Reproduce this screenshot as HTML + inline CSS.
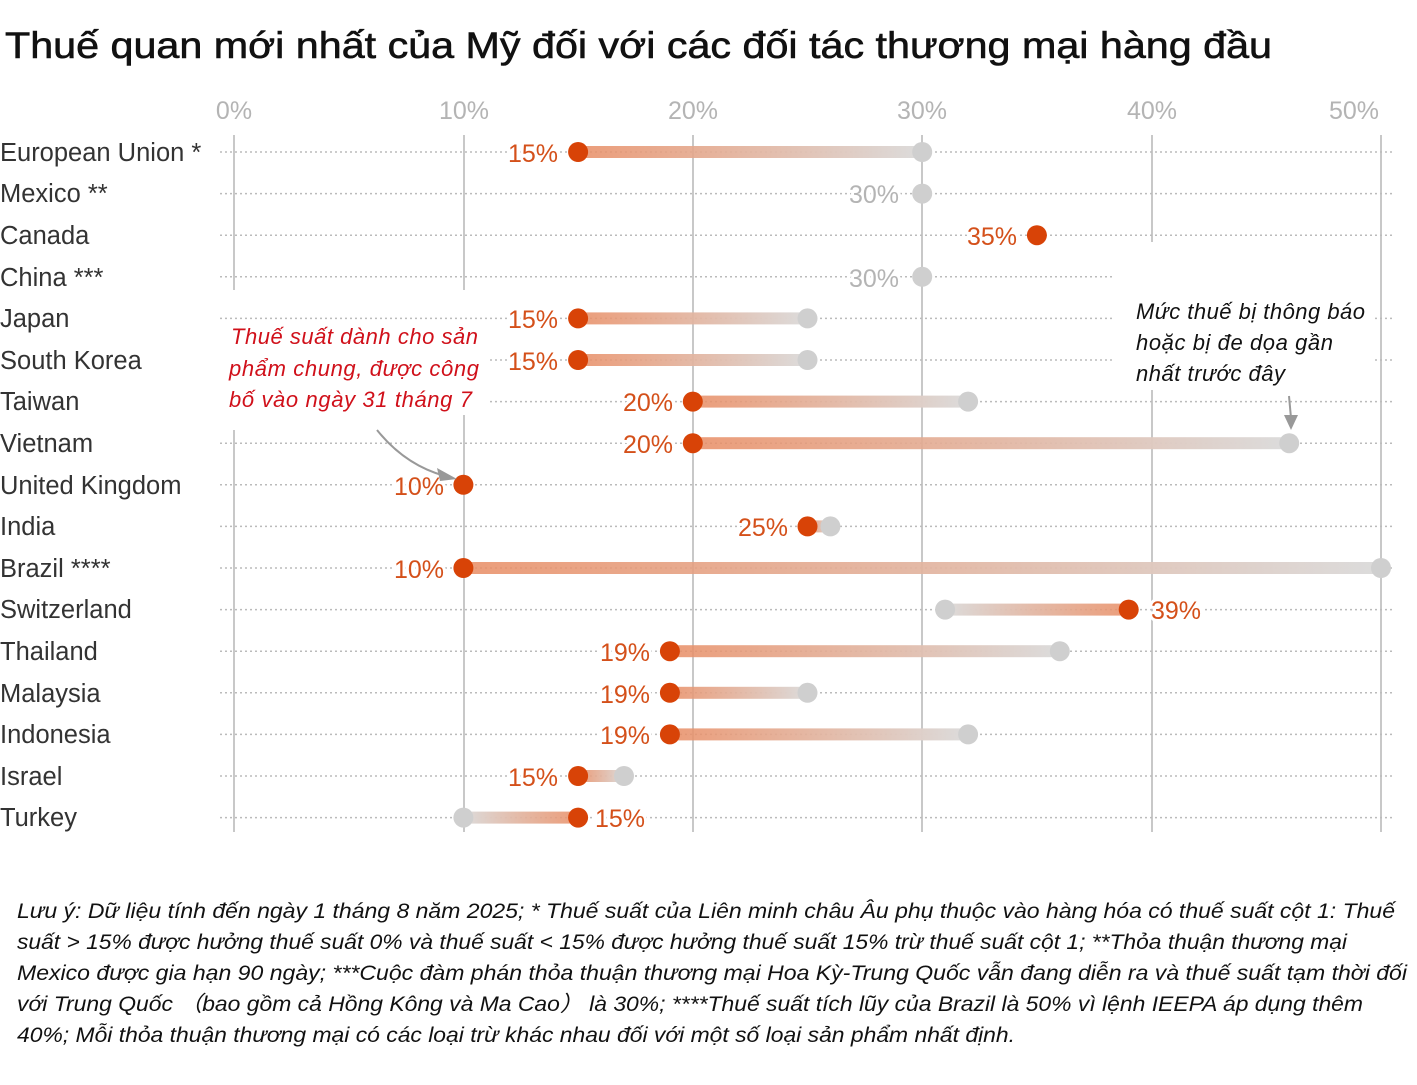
<!DOCTYPE html>
<html><head><meta charset="utf-8"><style>
body{margin:0;background:#fff}
svg{display:block;font-family:"Liberation Sans","DejaVu Sans",sans-serif}
</style></head><body>
<svg width="1417" height="1085" viewBox="0 0 1417 1085">
<defs>
<linearGradient id="gr" x1="0" x2="1" y1="0" y2="0"><stop offset="0" stop-color="#e88c63" stop-opacity="0.85"/><stop offset="1" stop-color="#dcdcdc"/></linearGradient>
<linearGradient id="gl" x1="1" x2="0" y1="0" y2="0"><stop offset="0" stop-color="#e88c63" stop-opacity="0.85"/><stop offset="1" stop-color="#dcdcdc"/></linearGradient>
</defs>
<text x="5" y="58" font-size="37" fill="#111" textLength="1267" lengthAdjust="spacingAndGlyphs" stroke="#111" stroke-width="0.6">Thuế quan mới nhất của Mỹ đối với các đối tác thương mại hàng đầu</text>
<g font-size="25" fill="#b4b4b4" text-anchor="middle">
<text x="234" y="119">0%</text><text x="464" y="119">10%</text><text x="693" y="119">20%</text><text x="922" y="119">30%</text><text x="1152" y="119">40%</text><text x="1354" y="119">50%</text>
</g>
<g stroke="#c8c8c8" stroke-width="2">
<line x1="234" y1="135" x2="234" y2="290"/><line x1="234" y1="430" x2="234" y2="832"/>
<line x1="464" y1="135" x2="464" y2="290"/><line x1="464" y1="415" x2="464" y2="832"/>
<line x1="693" y1="135" x2="693" y2="832"/><line x1="922" y1="135" x2="922" y2="832"/>
<line x1="1152" y1="135" x2="1152" y2="242"/><line x1="1152" y1="390" x2="1152" y2="832"/>
<line x1="1381" y1="135" x2="1381" y2="832"/>
</g>
<g stroke="#bbb" stroke-width="1.5" stroke-dasharray="2,3">
<line x1="220" x2="1395" y1="152" y2="152"/><line x1="220" x2="1395" y1="193.6" y2="193.6"/><line x1="220" x2="1395" y1="235.2" y2="235.2"/><line x1="220" x2="1112" y1="276.8" y2="276.8"/><line x1="220" x2="1395" y1="318.4" y2="318.4"/><line x1="220" x2="1395" y1="360" y2="360"/><line x1="220" x2="1395" y1="401.6" y2="401.6"/><line x1="220" x2="1395" y1="443.2" y2="443.2"/><line x1="220" x2="1395" y1="484.8" y2="484.8"/><line x1="220" x2="1395" y1="526.4" y2="526.4"/><line x1="220" x2="1395" y1="568" y2="568"/><line x1="220" x2="1395" y1="609.6" y2="609.6"/><line x1="220" x2="1395" y1="651.2" y2="651.2"/><line x1="220" x2="1395" y1="692.8" y2="692.8"/><line x1="220" x2="1395" y1="734.4" y2="734.4"/><line x1="220" x2="1395" y1="776" y2="776"/><line x1="220" x2="1395" y1="817.6" y2="817.6"/>
</g>
<g fill="#fff">
<rect x="1112" y="296" width="262" height="94"/>
<rect x="218" y="322" width="272" height="93"/>
</g>
<g>
<rect x="578.1" y="146" width="344.1" height="12" fill="url(#gr)"/>
<rect x="578.1" y="312.4" width="229.4" height="12" fill="url(#gr)"/>
<rect x="578.1" y="354" width="229.4" height="12" fill="url(#gr)"/>
<rect x="692.8" y="395.6" width="275.3" height="12" fill="url(#gr)"/>
<rect x="692.8" y="437.2" width="596.4" height="12" fill="url(#gr)"/>
<rect x="807.5" y="520.4" width="22.9" height="12" fill="url(#gr)"/>
<rect x="463.4" y="562" width="917.6" height="12" fill="url(#gr)"/>
<rect x="945.1" y="603.6" width="183.6" height="12" fill="url(#gl)"/>
<rect x="669.9" y="645.2" width="389.9" height="12" fill="url(#gr)"/>
<rect x="669.9" y="686.8" width="137.6" height="12" fill="url(#gr)"/>
<rect x="669.9" y="728.4" width="298.2" height="12" fill="url(#gr)"/>
<rect x="578.1" y="770" width="45.9" height="12" fill="url(#gr)"/>
<rect x="463.4" y="811.6" width="114.7" height="12" fill="url(#gl)"/>
</g>
<g fill="#cfcfcf">
<circle cx="922.2" cy="152" r="10"/><circle cx="922.2" cy="193.6" r="10"/><circle cx="922.2" cy="276.8" r="10"/>
<circle cx="807.5" cy="318.4" r="10"/><circle cx="807.5" cy="360" r="10"/><circle cx="968.1" cy="401.6" r="10"/>
<circle cx="1289.2" cy="443.2" r="10"/><circle cx="830.4" cy="526.4" r="10"/><circle cx="1381" cy="568" r="10"/>
<circle cx="945.1" cy="609.6" r="10"/><circle cx="1059.8" cy="651.2" r="10"/><circle cx="807.5" cy="692.8" r="10"/>
<circle cx="968.1" cy="734.4" r="10"/><circle cx="624" cy="776" r="10"/><circle cx="463.4" cy="817.6" r="10"/>
</g>
<g fill="#d84307">
<circle cx="578.1" cy="152" r="10"/><circle cx="1036.9" cy="235.2" r="10"/><circle cx="578.1" cy="318.4" r="10"/>
<circle cx="578.1" cy="360" r="10"/><circle cx="692.8" cy="401.6" r="10"/><circle cx="692.8" cy="443.2" r="10"/>
<circle cx="463.4" cy="484.8" r="10"/><circle cx="807.5" cy="526.4" r="10"/><circle cx="463.4" cy="568" r="10"/>
<circle cx="1128.7" cy="609.6" r="10"/><circle cx="669.9" cy="651.2" r="10"/><circle cx="669.9" cy="692.8" r="10"/>
<circle cx="669.9" cy="734.4" r="10"/><circle cx="578.1" cy="776" r="10"/><circle cx="578.1" cy="817.6" r="10"/>
</g>
<g font-size="25" fill="#d4501a" text-anchor="end" style="paint-order:stroke" stroke="#fff" stroke-width="6">
<text x="558" y="162">15%</text>
<text x="899" y="203" fill="#b4b4b4">30%</text>
<text x="1017" y="245">35%</text>
<text x="899" y="287" fill="#b4b4b4">30%</text>
<text x="558" y="328">15%</text>
<text x="558" y="370">15%</text>
<text x="673" y="411">20%</text>
<text x="673" y="453">20%</text>
<text x="444" y="495">10%</text>
<text x="788" y="536">25%</text>
<text x="444" y="578">10%</text>
<text x="1201" y="619">39%</text>
<text x="650" y="661">19%</text>
<text x="650" y="703">19%</text>
<text x="650" y="744">19%</text>
<text x="558" y="786">15%</text>
<text x="645" y="827">15%</text>
</g>
<g font-size="25.5" fill="#333">
<text x="0" y="161">European Union *</text>
<text x="0" y="202">Mexico **</text>
<text x="0" y="244">Canada</text>
<text x="0" y="286">China ***</text>
<text x="0" y="327">Japan</text>
<text x="0" y="369">South Korea</text>
<text x="0" y="410">Taiwan</text>
<text x="0" y="452">Vietnam</text>
<text x="0" y="494">United Kingdom</text>
<text x="0" y="535">India</text>
<text x="0" y="577">Brazil ****</text>
<text x="0" y="618">Switzerland</text>
<text x="0" y="660">Thailand</text>
<text x="0" y="702">Malaysia</text>
<text x="0" y="743">Indonesia</text>
<text x="0" y="785">Israel</text>
<text x="0" y="826">Turkey</text>
</g>
<g font-size="22" font-style="italic" fill="#d0101a">
<text x="231" y="344" textLength="247">Thuế suất dành cho sản</text>
<text x="229" y="376" textLength="250">phẩm chung, được công</text>
<text x="229" y="407" textLength="243">bố vào ngày 31 tháng 7</text>
</g>
<path d="M377 430 Q405 465 445 476" fill="none" stroke="#999" stroke-width="2"/>
<polygon points="457,479 437,468 440,481" fill="#999"/>
<g font-size="22" font-style="italic" fill="#111">
<text x="1136" y="319" textLength="229">Mức thuế bị thông báo</text>
<text x="1136" y="350" textLength="197">hoặc bị đe dọa gần</text>
<text x="1136" y="381" textLength="149">nhất trước đây</text>
</g>
<line x1="1289" y1="396" x2="1291" y2="418" stroke="#999" stroke-width="2"/>
<polygon points="1284,415 1298,415 1291,430" fill="#999"/>
<g font-size="21.5" font-style="italic" fill="#111" lengthAdjust="spacingAndGlyphs">
<text x="17" y="918" textLength="1378" lengthAdjust="spacingAndGlyphs">Lưu ý: Dữ liệu tính đến ngày 1 tháng 8 năm 2025; * Thuế suất của Liên minh châu Âu phụ thuộc vào hàng hóa có thuế suất cột 1: Thuế</text>
<text x="17" y="949" textLength="1330" lengthAdjust="spacingAndGlyphs">suất &gt; 15% được hưởng thuế suất 0% và thuế suất &lt; 15% được hưởng thuế suất 15% trừ thuế suất cột 1; **Thỏa thuận thương mại</text>
<text x="17" y="980" textLength="1390" lengthAdjust="spacingAndGlyphs">Mexico được gia hạn 90 ngày; ***Cuộc đàm phán thỏa thuận thương mại Hoa Kỳ-Trung Quốc vẫn đang diễn ra và thuế suất tạm thời đối</text>
<text x="17" y="1011" textLength="1346" lengthAdjust="spacingAndGlyphs">với Trung Quốc （bao gồm cả Hồng Kông và Ma Cao） là 30%; ****Thuế suất tích lũy của Brazil là 50% vì lệnh IEEPA áp dụng thêm</text>
<text x="17" y="1042" textLength="998" lengthAdjust="spacingAndGlyphs">40%; Mỗi thỏa thuận thương mại có các loại trừ khác nhau đối với một số loại sản phẩm nhất định.</text>
</g>
</svg>
</body></html>
